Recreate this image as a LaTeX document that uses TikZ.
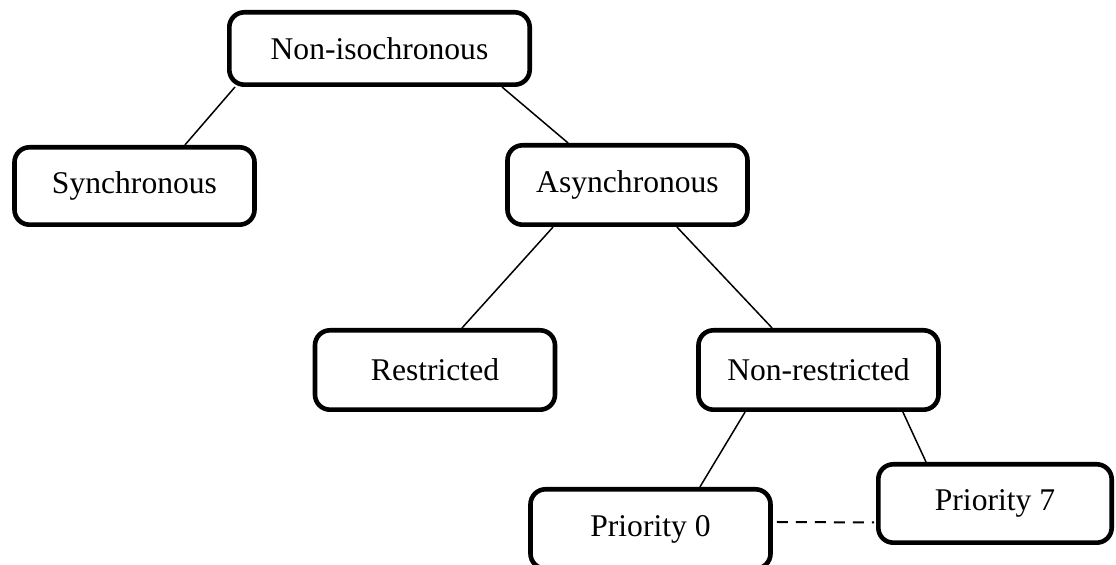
\documentclass[tikz,border=0pt]{standalone}
\usepackage{fontspec}
\setmainfont{Liberation Serif}

\begin{document}
\begin{tikzpicture}[x=0.5pt,y=-0.5pt,
    box/.style={draw, line width=2.3pt, rounded corners=7.5pt,
      minimum width=120pt, minimum height=39.7pt, inner sep=0pt,
      font=\fontsize{15.8}{19}\selectfont},
    link/.style={line width=0.75pt}]
  \useasboundingbox (0,0) rectangle (1116,565);
  \node[box, minimum width=150.2pt, minimum height=36.2pt] (noniso) at (379.5,48.5) {Non-isochronous};
  \node[box, minimum height=38.7pt] (sync) at (134.5,186) {Synchronous};
  \node[box] (async) at (627.5,185) {Asynchronous};
  \node[box] (restr) at (435,370) {Restricted};
  \node[box] (nonrestr) at (818.5,370) {Non-restricted};
  \node[box] (prio0) at (650.5,529) {Priority 0};
  \node[box, minimum width=116.7pt, minimum height=39.2pt] (prio7) at (995,503.5) {Priority 7};
  \draw[link] ([xshift=4pt]noniso.south west) -- ([xshift=25.2pt]sync.north);
  \draw[link] ([xshift=-15pt]noniso.south east) -- ([xshift=-29.7pt]async.north);
  \draw[link] ([xshift=-37.2pt]async.south) -- ([xshift=13.5pt]restr.north);
  \draw[link] ([xshift=24.7pt]async.south) -- ([xshift=-23.2pt]nonrestr.north);
  \draw[link] ([xshift=-36.7pt]nonrestr.south) -- ([xshift=24.7pt]prio0.north);
  \draw[link] ([xshift=42.2pt]nonrestr.south) -- ([xshift=-34.5pt]prio7.north);
  \draw[link, line width=1pt, dash pattern=on 5.5pt off 4pt] ([xshift=2pt,yshift=3.5pt]prio0.east) -- ([xshift=-1pt,yshift=-9.5pt]prio7.west);
\end{tikzpicture}
\end{document}
